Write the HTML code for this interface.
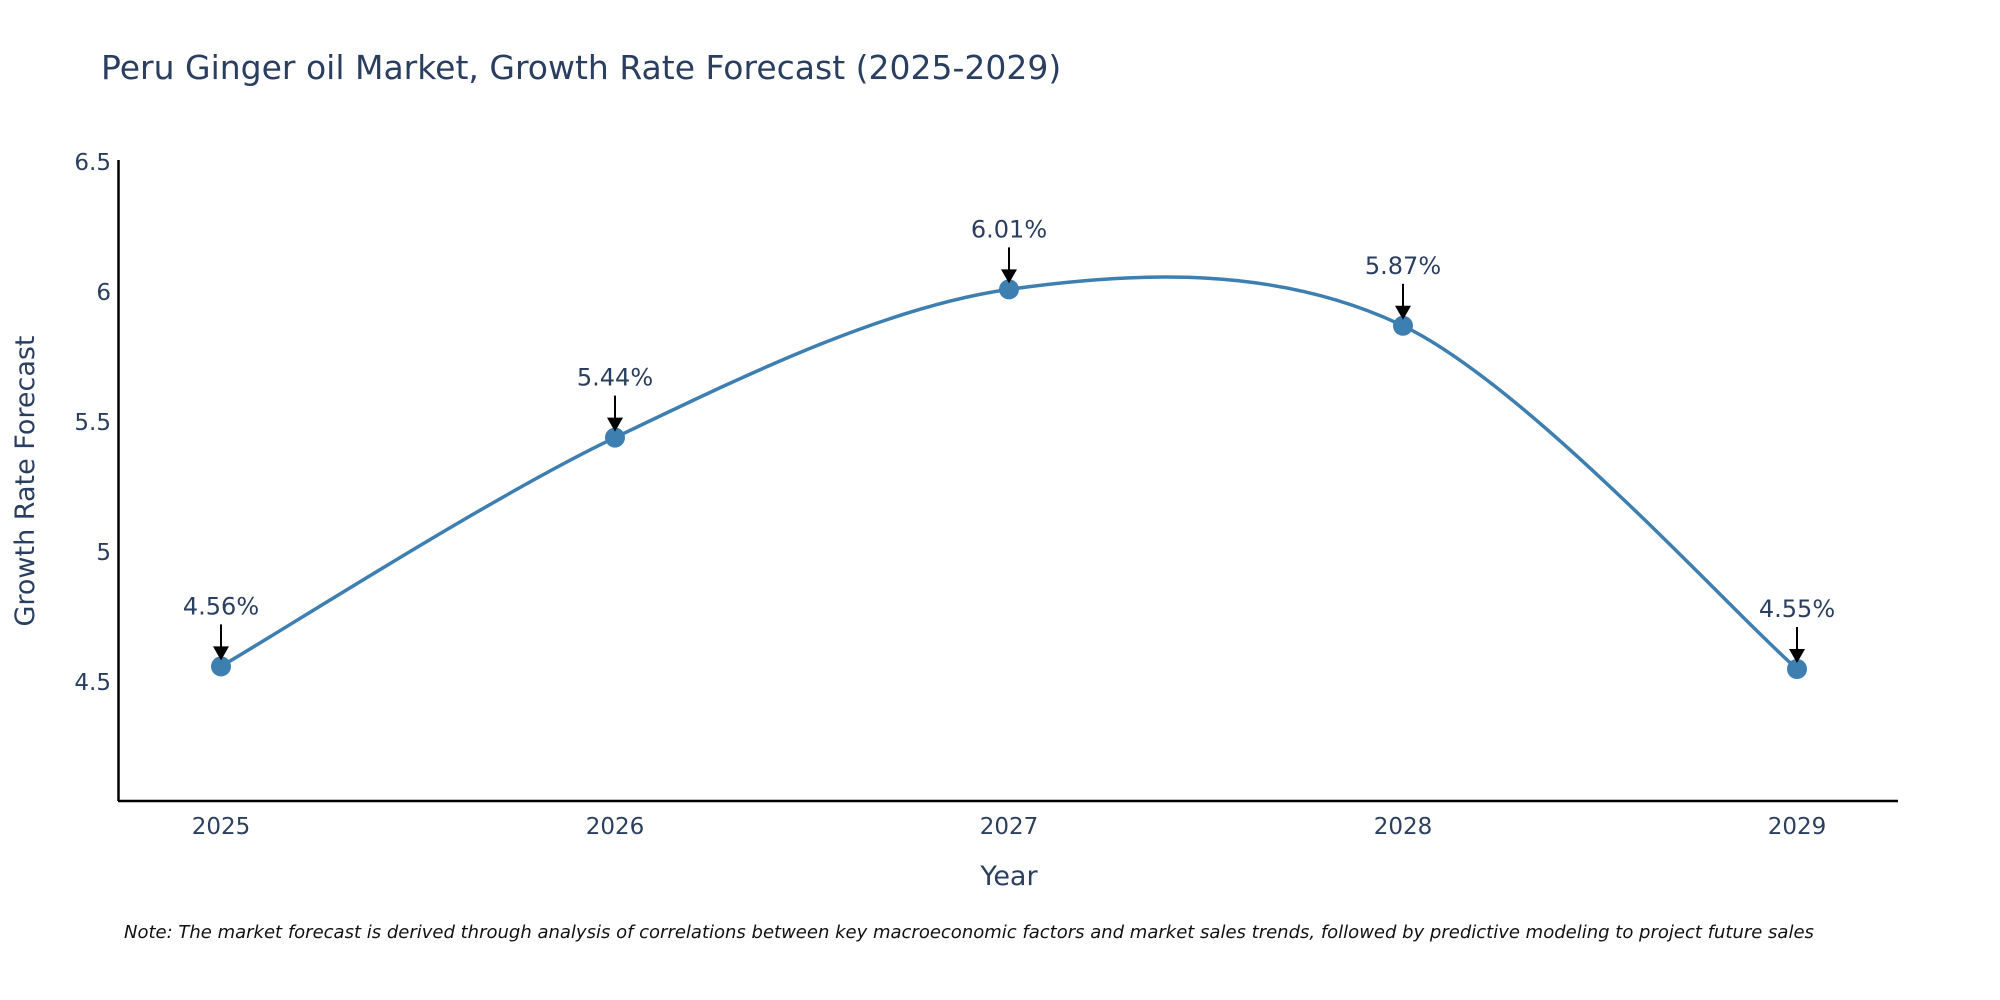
<!DOCTYPE html>
<html><head><meta charset="utf-8"><style>
body{margin:0;background:#fff;}
svg{display:block;font-family:"DejaVu Sans","Liberation Sans",sans-serif;}
</style></head><body>
<svg id="chart" width="2000" height="1000" viewBox="0 0 2000 1000" xmlns="http://www.w3.org/2000/svg">
<text x="101" y="79" font-size="33" fill="#2a3f5f">Peru Ginger oil Market, Growth Rate Forecast (2025-2029)</text>
<g id="axes"></g>
<g id="marks"></g>
<text x="1009" y="885" font-size="27" fill="#2a3f5f" text-anchor="middle">Year</text>
<text transform="translate(34,481) rotate(-90)" font-size="27" fill="#2a3f5f" text-anchor="middle">Growth Rate Forecast</text>
<text x="124" y="938" font-size="18" font-style="italic" fill="#111">Note: The market forecast is derived through analysis of correlations between key macroeconomic factors and market sales trends, followed by predictive modeling to project future sales</text>
</svg>
<script>
const categories = ["2025","2026","2027","2028","2029"];
const values = [4.56, 5.44, 6.01, 5.87, 4.55];
const labels = ["4.56%","5.44%","6.01%","5.87%","4.55%"];
const yTicks = [4.5, 5, 5.5, 6, 6.5];
const yTickLabels = ["4.5","5","5.5","6","6.5"];

const NS="http://www.w3.org/2000/svg";
const x0=221, xStep=(1797-221)/4;
const xScale=i=>x0+i*xStep;
const yScale=v=>682-(v-4.5)*260;
function mk(tag,attrs,parent){const e=document.createElementNS(NS,tag);for(const k in attrs)e.setAttribute(k,attrs[k]);parent.appendChild(e);return e;}
const axes=document.getElementById('axes'), marks=document.getElementById('marks');

const yl=mk('line',{x1:118.5,y1:160,x2:118.5,y2:801,stroke:'#000','stroke-width':2.5},axes);


const xl=mk('line',{x1:118,y1:801,x2:1898,y2:801,stroke:'#000','stroke-width':2.5},axes);



yTicks.forEach((t,i)=>{
  const tx=mk('text',{x:111,y:yScale(t)+8,'font-size':23,fill:'#2a3f5f','text-anchor':'end'},axes);
  
  
  tx.textContent=yTickLabels[i];
});
categories.forEach((c,i)=>{
  const tx=mk('text',{x:xScale(i),y:834,'font-size':23,fill:'#2a3f5f','text-anchor':'middle'},axes);
  
  
  tx.textContent=c;
});

const pts=values.map((v,i)=>[xScale(i),yScale(v)]);
let d=`M${pts[0][0]},${pts[0][1]}`;
const s=0.16;
for(let i=0;i<pts.length-1;i++){
  const p0=pts[Math.max(0,i-1)],p1=pts[i],p2=pts[i+1],p3=pts[Math.min(pts.length-1,i+2)];
  const c1=[p1[0]+(p2[0]-p0[0])*s,p1[1]+(p2[1]-p0[1])*s];
  const c2=[p2[0]-(p3[0]-p1[0])*s,p2[1]-(p3[1]-p1[1])*s];
  d+=` C${c1[0]},${c1[1]} ${c2[0]},${c2[1]} ${p2[0]},${p2[1]}`;
}
const line=mk('path',{d:d,fill:'none',stroke:'#3d7fb1','stroke-width':3.5},marks);



pts.forEach((p,i)=>{
  const c=mk('circle',{cx:p[0],cy:p[1],r:10,fill:'#3d7fb1'},marks);
  
  
  const a=mk('line',{x1:p[0],y1:p[1]-42,x2:p[0],y2:p[1]-18,stroke:'#000','stroke-width':2},marks);
  
  
  const h=mk('polygon',{points:`${p[0]-8},${p[1]-20} ${p[0]+8},${p[1]-20} ${p[0]},${p[1]-6}`,fill:'#000'},marks);
  
  
  const t=mk('text',{x:p[0],y:p[1]-52,'font-size':24,fill:'#2a3f5f','text-anchor':'middle'},marks);
  
  
  t.textContent=labels[i];
});
</script>
</body></html>
